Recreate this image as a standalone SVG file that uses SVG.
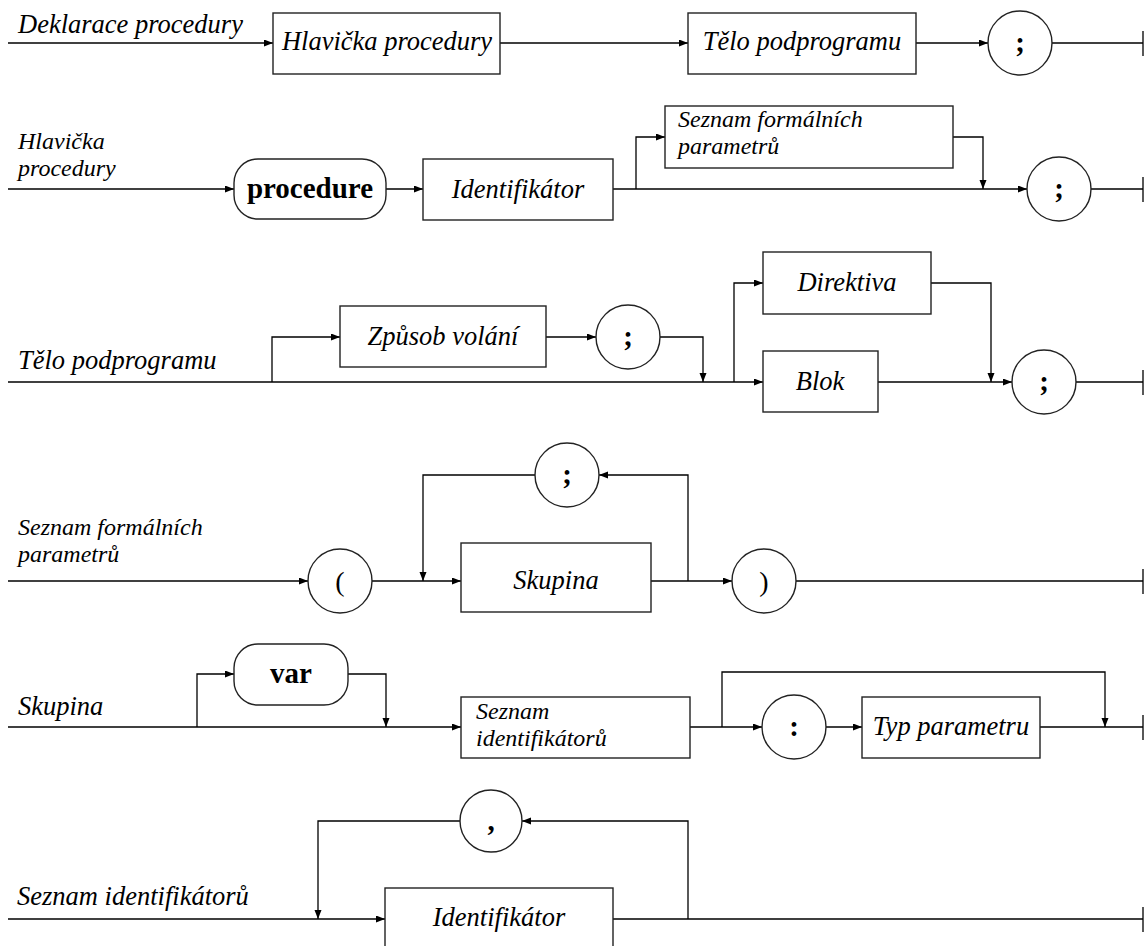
<svg xmlns="http://www.w3.org/2000/svg" width="1147" height="946" viewBox="0 0 1147 946">
<defs>
<marker id="ah" markerUnits="userSpaceOnUse" markerWidth="10" markerHeight="8" refX="9" refY="3.5" orient="auto">
<path d="M0,0 L9,3.5 L0,7 z" fill="#000"/>
</marker>
<style>
.ln{fill:none;stroke:#000;stroke-width:1.3}
.ar{fill:none;stroke:#000;stroke-width:1.3;marker-end:url(#ah)}
.bx{fill:#fff;stroke:#222;stroke-width:1.4}
.t{font-family:"Liberation Serif",serif;font-style:italic;font-size:26.5px;fill:#000}
.m{font-size:24px}
.c{text-anchor:middle}
.b{font-family:"Liberation Serif",serif;font-weight:bold;font-size:29px;fill:#000;text-anchor:middle}
.s{font-family:"Liberation Serif",serif;font-size:28px;fill:#000;text-anchor:middle}
</style>
</defs>
<rect width="1147" height="946" fill="#fff"/>

<g id="connectors">
<!-- row 1 -->
<path class="ar" d="M8,43 H273"/>
<path class="ar" d="M500,43 H688"/>
<path class="ar" d="M916,43 H988"/>
<path class="ln" d="M1052,43 H1143 M1143,31 V56"/>
<!-- row 2 -->
<path class="ar" d="M8,189 H234"/>
<path class="ar" d="M386,189 H423"/>
<path class="ar" d="M636,189 V137 H665"/>
<path class="ar" d="M953,137 H983 V189"/>
<path class="ar" d="M613,189 H1027"/>
<path class="ln" d="M1091,189 H1143 M1143,177 V202"/>
<!-- row 3 -->
<path class="ar" d="M8,382 H763"/>
<path class="ar" d="M272,382 V337 H340"/>
<path class="ar" d="M546,337 H596"/>
<path class="ar" d="M660,337 H703 V382"/>
<path class="ar" d="M734,382 V283 H763"/>
<path class="ar" d="M931,283 H991 V382"/>
<path class="ar" d="M878,382 H1012"/>
<path class="ln" d="M1076,382 H1143 M1143,370 V395"/>
<!-- row 4 -->
<path class="ar" d="M8,581 H308"/>
<path class="ar" d="M372,581 H461"/>
<path class="ar" d="M535,475 H423 V581"/>
<path class="ar" d="M651,581 H732"/>
<path class="ar" d="M688,581 V475 H599"/>
<path class="ln" d="M796,581 H1143 M1143,569 V594"/>
<!-- row 5 -->
<path class="ar" d="M8,727 H461"/>
<path class="ar" d="M197,727 V674 H234"/>
<path class="ar" d="M348,674 H386 V727"/>
<path class="ar" d="M690,727 H762"/>
<path class="ar" d="M722,727 V672 H1105 V727"/>
<path class="ar" d="M826,727 H862"/>
<path class="ln" d="M1040,727 H1143 M1143,715 V740"/>
<!-- row 6 -->
<path class="ar" d="M8,919 H385"/>
<path class="ar" d="M460,821 H318 V919"/>
<path class="ln" d="M613,919 H1143 M1143,907 V932"/>
<path class="ar" d="M688,919 V821 H522"/>
</g>

<g id="labels">
<text class="t" x="18" y="33">Deklarace procedury</text>
<text class="t m" x="18" y="149">Hlavička</text>
<text class="t m" x="18" y="176">procedury</text>
<text class="t" x="18" y="369">Tělo podprogramu</text>
<text class="t m" x="18" y="535">Seznam formálních</text>
<text class="t m" x="18" y="562">parametrů</text>
<text class="t" x="18" y="715">Skupina</text>
<text class="t" x="17" y="905">Seznam identifikátorů</text>
</g>

<!-- row 1 nodes -->
<g id="r1-hlavicka"><rect class="bx" x="273" y="13" width="227" height="61"/><text class="t c" x="387" y="50">Hlavička procedury</text></g>
<g id="r1-telo"><rect class="bx" x="688" y="13" width="228" height="61"/><text class="t c" x="802" y="50">Tělo podprogramu</text></g>
<g id="r1-semi"><circle class="bx" cx="1020" cy="43" r="32"/><text class="b" x="1020" y="52">;</text></g>

<!-- row 2 nodes -->
<g id="r2-procedure"><rect class="bx" x="234" y="159" width="152" height="60" rx="24"/><text class="b" x="310" y="198">procedure</text></g>
<g id="r2-ident"><rect class="bx" x="423" y="159" width="190" height="61"/><text class="t c" x="518" y="198">Identifikátor</text></g>
<g id="r2-seznam"><rect class="bx" x="665" y="106" width="288" height="62"/><text class="t m" x="678" y="127">Seznam formálních</text><text class="t m" x="678" y="154">parametrů</text></g>
<g id="r2-semi"><circle class="bx" cx="1059" cy="189" r="32"/><text class="b" x="1059" y="198">;</text></g>

<!-- row 3 nodes -->
<g id="r3-zpusob"><rect class="bx" x="340" y="306" width="206" height="61"/><text class="t c" x="443" y="345">Způsob volání</text></g>
<g id="r3-semi1"><circle class="bx" cx="628" cy="337" r="32"/><text class="b" x="628" y="346">;</text></g>
<g id="r3-direktiva"><rect class="bx" x="763" y="252" width="168" height="62"/><text class="t c" x="847" y="291">Direktiva</text></g>
<g id="r3-blok"><rect class="bx" x="763" y="351" width="115" height="61"/><text class="t c" x="820" y="390">Blok</text></g>
<g id="r3-semi2"><circle class="bx" cx="1044" cy="382" r="32"/><text class="b" x="1044" y="391">;</text></g>

<!-- row 4 nodes -->
<g id="r4-lpar"><circle class="bx" cx="340" cy="581" r="32"/><text class="s" x="340" y="591">(</text></g>
<g id="r4-semi"><circle class="bx" cx="567" cy="475" r="32"/><text class="b" x="567" y="484">;</text></g>
<g id="r4-skupina"><rect class="bx" x="461" y="543" width="190" height="69"/><text class="t c" x="556" y="589">Skupina</text></g>
<g id="r4-rpar"><circle class="bx" cx="764" cy="581" r="32"/><text class="s" x="764" y="591">)</text></g>

<!-- row 5 nodes -->
<g id="r5-var"><rect class="bx" x="234" y="644" width="114" height="61" rx="24"/><text class="b" x="291" y="683">var</text></g>
<g id="r5-seznam"><rect class="bx" x="461" y="697" width="229" height="61"/><text class="t m" x="476" y="719">Seznam</text><text class="t m" x="476" y="746">identifikátorů</text></g>
<g id="r5-colon"><circle class="bx" cx="794" cy="727" r="32"/><text class="b" x="794" y="736">:</text></g>
<g id="r5-typ"><rect class="bx" x="862" y="697" width="178" height="61"/><text class="t c" x="951" y="735">Typ parametru</text></g>

<!-- row 6 nodes -->
<g id="r6-comma"><circle class="bx" cx="491" cy="821" r="31"/><text class="b" x="491" y="830">,</text></g>
<g id="r6-ident"><rect class="bx" x="385" y="888" width="228" height="62"/><text class="t c" x="499" y="926">Identifikátor</text></g>
</svg>
